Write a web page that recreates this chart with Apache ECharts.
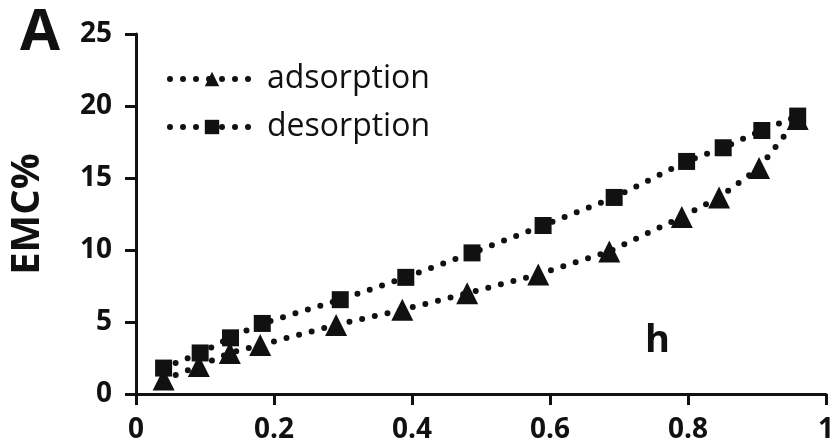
<!DOCTYPE html>
<html lang="en">
<head>
    <meta charset="UTF-8">
    <title>EMC adsorption / desorption</title>
    <script type="text/javascript" src="https://cdn.jsdelivr.net/npm/echarts@6/dist/echarts.min.js"></script>
    <style>
        html, body { margin: 0; padding: 0; background: #fff; }
    </style>
</head>
<body>
<div id="main" style="width: 837px;height:445px;"></div>
<script type="text/javascript">
    // relative humidity h
    var adsH = [0.04, 0.091, 0.136, 0.18, 0.29, 0.386, 0.48, 0.583, 0.686, 0.791, 0.845, 0.903, 0.959];
    var adsEMC = [1.0, 1.95, 2.85, 3.4, 4.8, 5.85, 7.0, 8.3, 9.9, 12.3, 13.65, 15.7, 19.1];
    var desH = [0.04, 0.093, 0.137, 0.183, 0.296, 0.391, 0.487, 0.59, 0.693, 0.798, 0.851, 0.907, 0.959];
    var desEMC = [1.8, 2.85, 3.9, 4.9, 6.55, 8.1, 9.8, 11.7, 13.65, 16.15, 17.1, 18.3, 19.3];

    function pairs(xs, ys) {
        return xs.map(function (x, i) { return [x, ys[i]]; });
    }

    var font = '"Open Sans", "Liberation Sans", sans-serif';
    var ink = '#111';
    var dots = {color: ink, width: 6, type: [0, 13], cap: 'round'};

    var option = {
        backgroundColor: '#fff',
        animation: false,
        textStyle: {fontFamily: font},
        grid: {left: 132, right: 5, top: 34, bottom: 51},
        legend: {
            orient: 'vertical',
            left: 162,
            top: 58,
            itemWidth: 84,
            itemHeight: 18,
            itemGap: 16,
            lineStyle: {width: 6, type: [0, 13], cap: 'round'},
            textStyle: {fontSize: 32, color: ink, fontFamily: font, padding: [0, 0, 0, 8]},
            data: ['adsorption', 'desorption']
        },
        xAxis: {
            type: 'value',
            min: 0,
            max: 1,
            interval: 0.2,
            splitLine: {show: false},
            axisLine: {lineStyle: {color: ink, width: 3}},
            axisTick: {length: 11, lineStyle: {color: ink, width: 3}},
            axisLabel: {color: ink, fontSize: 28, fontWeight: 'bold', margin: 22}
        },
        yAxis: {
            type: 'value',
            min: 0,
            max: 25,
            interval: 5,
            name: 'EMC%',
            nameLocation: 'middle',
            nameRotate: 90,
            nameGap: 88,
            nameTextStyle: {fontSize: 40, fontWeight: 'bold', color: ink},
            splitLine: {show: false},
            axisLine: {show: true, lineStyle: {color: ink, width: 3}},
            axisTick: {show: true, length: 11, lineStyle: {color: ink, width: 3}},
            axisLabel: {color: ink, fontSize: 28, fontWeight: 'bold', margin: 24}
        },
        graphic: [
            {type: 'text', left: 20, top: 4, style: {text: 'A', fontSize: 58, fontWeight: 'bold', fill: ink, fontFamily: font}},
            {type: 'text', left: 645, top: 322, style: {text: 'h', fontSize: 38, fontWeight: 'bold', fill: ink, fontFamily: font}}
        ],
        series: [
            {
                name: 'adsorption',
                type: 'line',
                data: pairs(adsH, adsEMC),
                symbol: 'triangle',
                symbolSize: 22,
                itemStyle: {color: ink},
                lineStyle: dots
            },
            {
                name: 'desorption',
                type: 'line',
                data: pairs(desH, desEMC),
                symbol: 'rect',
                symbolSize: 17,
                itemStyle: {color: ink},
                lineStyle: dots
            }
        ]
    };

    var myChart = echarts.init(document.getElementById('main'));
    myChart.setOption(option);
</script>
</body>
</html>
